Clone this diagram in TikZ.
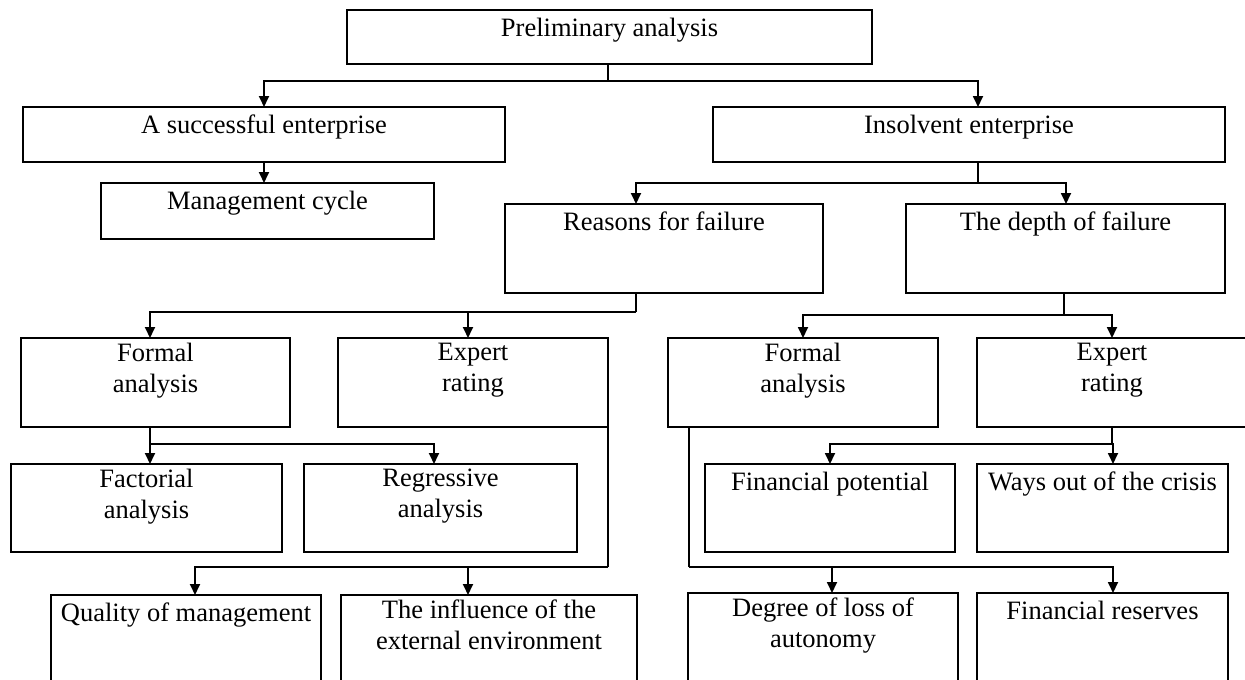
\documentclass[tikz,border=0pt]{standalone}
\usepackage{fontspec}
\setmainfont{Liberation Serif}
\usetikzlibrary{arrows.meta}

% \blk{name}{x1}{y1}{x2}{y2}{text}: a framed block with its caption near the top
\newcommand\blk[6]{%
  \node[blk, minimum width={#4-#2}, minimum height={#5-#3}] (#1) at ({(#2+#4)/2},{(#3+#5)/2}) {};
  \node[txt] (#1-t) at ({(#2+#4)/2},{#3+4.5}) {#6};
}

\begin{document}
\begin{tikzpicture}[x=1pt,y=-1pt,
  blk/.style={draw, line width=1.8pt, rectangle, inner sep=0pt, outer sep=0pt},
  txt/.style={anchor=north, inner sep=0pt, align=center,
    font=\fontsize{26.5}{31}\selectfont, execute at begin node={\rule{0pt}{21.5pt}}},
  link/.style={line width=1.8pt, line join=miter},
  arr/.style={link, -{Triangle[length=11pt,width=10pt]}}]

\useasboundingbox (0,0) rectangle (1245,680);
\clip (0,0) rectangle (1245,680);

% blocks
\blk{pre}{347}{10}{872}{64}{Preliminary analysis}
\blk{succ}{23}{107}{505}{162}{A successful enterprise}
\blk{mgmt}{101}{183}{434}{239}{Management cycle}
\blk{insol}{713}{107}{1225}{162}{Insolvent enterprise}
\blk{reasons}{505}{204}{823}{293}{Reasons for failure}
\blk{depth}{906}{204}{1225}{293}{The depth of failure}
\blk{formL}{21}{338}{290}{427}{Formal\\analysis}
\blk{expL}{338}{338}{608}{427}{Expert\\rating}
\blk{formR}{668}{338}{938}{427}{Formal\\analysis}
\blk{expR}{977}{338}{1247}{427}{Expert\\rating}
\blk{fact}{11}{464}{282}{552}{Factorial\\analysis}
\blk{regr}{304}{464}{577}{552}{Regressive\\analysis}
\blk{finpot}{705}{464}{955}{552}{Financial potential}
\blk{ways}{977}{464}{1228}{552}{Ways out of the crisis}
\blk{qual}{51}{595}{321}{700}{Quality of management}
\blk{infl}{341}{595}{637}{700}{The influence of the\\external environment}
\blk{degree}{688}{593}{958}{700}{Degree of loss of\\autonomy}
\blk{finres}{977}{593}{1228}{700}{Financial reserves}

% bus levels
\coordinate (bus1) at (0,81);
\coordinate (bus2) at (0,183);
\coordinate (bus3) at (0,312);
\coordinate (bus4) at (0,315);
\coordinate (bus5) at (0,444);
\coordinate (bus6) at (0,567);

% preliminary analysis
\draw[link] ([xshift=-1.5pt]pre.south) -- ([xshift=-1.5pt]pre.south |- bus1);
\draw[arr] ([xshift=-1.5pt]pre.south |- bus1) -| (succ.north);
\draw[arr] ([xshift=-1.5pt]pre.south |- bus1) -| ([xshift=9pt]insol.north);

% successful enterprise
\draw[arr] (succ.south) -- (succ.south |- mgmt.north);

% insolvent enterprise
\draw[link] ([xshift=9pt]insol.south) -- ([xshift=9pt]insol.south |- bus2);
\draw[arr] ([xshift=9pt]insol.south |- bus2) -| ([xshift=-28pt]reasons.north);
\draw[arr] ([xshift=9pt]insol.south |- bus2) -| ([xshift=0.5pt]depth.north);

% reasons for failure
\draw[link] ([xshift=-28pt]reasons.south) -- ([xshift=-28pt]reasons.south |- bus3);
\draw[arr] ([xshift=-28pt]reasons.south |- bus3) -| ([xshift=-5.5pt]formL.north);
\draw[arr] ([xshift=-5pt]expL.north |- bus3) -- ([xshift=-5pt]expL.north);

% depth of failure
\draw[link] ([xshift=-1.5pt]depth.south) -- ([xshift=-1.5pt]depth.south |- bus4);
\draw[arr] ([xshift=-1.5pt]depth.south |- bus4) -| (formR.north);
\draw[arr] ([xshift=-1.5pt]depth.south |- bus4) -| (expR.north);

% formal analysis (left)
\draw[link] ([xshift=-5.5pt]formL.south) -- ([xshift=-5.5pt]formL.south |- bus5);
\draw[arr] ([xshift=-5.5pt]formL.south |- bus5) -| ([xshift=3.5pt]fact.north);
\draw[arr] ([xshift=-5.5pt]formL.south |- bus5) -| ([xshift=-6.5pt]regr.north);

% expert rating (left)
\draw[link] (expL.south east) -- (expL.south east |- bus6);
\draw[arr] (expL.south east |- bus6) -| ([xshift=9pt]qual.north);
\draw[arr] ([xshift=-21pt]infl.north |- bus6) -- ([xshift=-21pt]infl.north);

% expert rating (right)
\draw[link] (expR.south) -- (expR.south |- bus5);
\draw[arr] (expR.south |- bus5) -| (finpot.north);
\draw[arr] (expR.south |- bus5) -| ([xshift=10.5pt]ways.north);

% formal analysis (right)
\draw[link] ([xshift=21pt]formR.south west) -- ([xshift=21pt]formR.south west |- bus6);
\draw[arr] ([xshift=21pt]formR.south west |- bus6) -| ([xshift=10.5pt]finres.north);
\draw[arr] ([xshift=9pt]degree.north |- bus6) -- ([xshift=9pt]degree.north);

\end{tikzpicture}
\end{document}
